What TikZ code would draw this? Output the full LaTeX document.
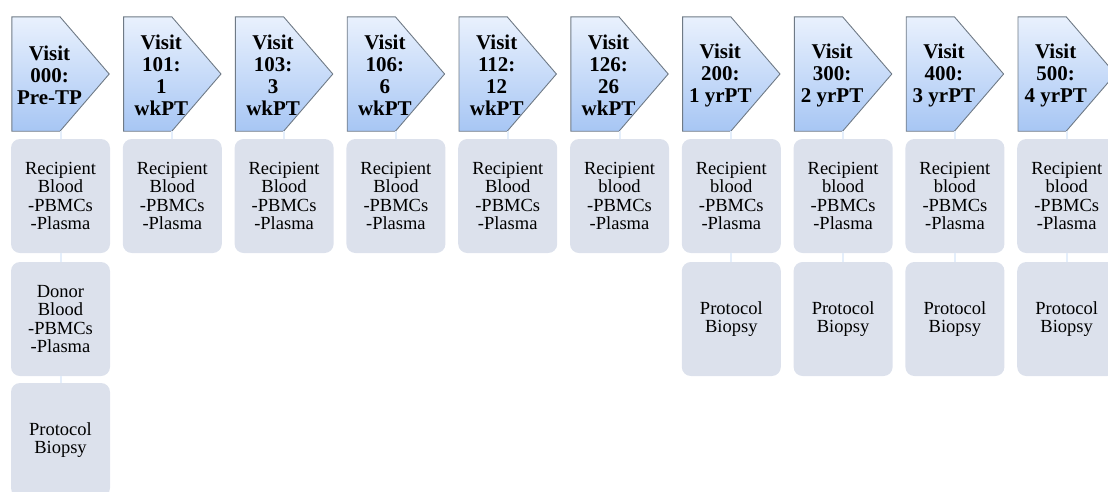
\documentclass[tikz,border=0pt]{standalone}
\usepackage{fontspec}
\setmainfont{Liberation Serif}
\begin{document}
\begin{tikzpicture}[x=1pt,y=-1pt,
  hdrshape/.style={draw=none,minimum width=97pt,minimum height=114pt,inner sep=0pt},
  hdrfill/.style={draw=hdrline,line width=0.9pt,top color=hdrtop,bottom color=hdrbot,line join=miter},
  hdrtext/.style={font=\fontsize{21}{22}\selectfont\bfseries,align=center,inner sep=0pt},
  itembox/.style={fill=boxcol,rounded corners=9pt,minimum width=99pt,minimum height=114pt,inner sep=0pt,align=center,font=\fontsize{18.5}{18.5}\selectfont},
  conn/.style={draw=conncol,line width=2pt}]
\definecolor{boxcol}{HTML}{DCE1EC}
\definecolor{conncol}{HTML}{E4EEFB}
\definecolor{hdrtop}{HTML}{E9F1FD}
\definecolor{hdrbot}{HTML}{A7C6F4}
\definecolor{hdrline}{HTML}{6F7A86}
\useasboundingbox (0,0) rectangle (1108,491);
\clip (0,0) rectangle (1108,491);
\foreach \i/\hd/\rb in {0/{Visit\\000:\\Pre-TP}/Blood, 1/{Visit\\101:\\1\\wkPT}/Blood, 2/{Visit\\103:\\3\\wkPT}/Blood, 3/{Visit\\106:\\6\\wkPT}/Blood, 4/{Visit\\112:\\12\\wkPT}/Blood, 5/{Visit\\126:\\26\\wkPT}/blood, 6/{Visit\\200:\\1 yrPT}/blood, 7/{Visit\\300:\\2 yrPT}/blood, 8/{Visit\\400:\\3 yrPT}/blood, 9/{Visit\\500:\\4 yrPT}/blood}{
  \pgfmathsetmacro{\L}{12+111.8*\i}
  \node[hdrshape] (h\i) at (\L+48.5,74) {};
  \path[hdrfill] (h\i.north west) -- ([xshift=-0.5pt]h\i.north) -- (h\i.east) -- ([xshift=-0.5pt]h\i.south) -- (h\i.south west) -- cycle;
  \node[hdrtext] (t\i) at (\L+37.5,75) {\hd};
  \node[itembox] (r\i) at (\L+48.5,196) {Recipient\\\rb\\-PBMCs\\-Plasma};
  \draw[conn] (h\i.south) -- (r\i.north);
}
\node[itembox] (d0) at (60.5,319) {Donor\\Blood\\-PBMCs\\-Plasma};
\node[itembox] (p0) at (60.5,440) {Protocol\\Biopsy};
\draw[conn] (r0.south) -- (d0.north);
\draw[conn] (d0.south) -- (p0.north);
\foreach \i in {6,7,8,9}{
  \pgfmathsetmacro{\L}{12+111.8*\i}
  \node[itembox] (p\i) at (\L+48.5,319) {Protocol\\Biopsy};
  \draw[conn] (r\i.south) -- (p\i.north);
}
\end{tikzpicture}
\end{document}
